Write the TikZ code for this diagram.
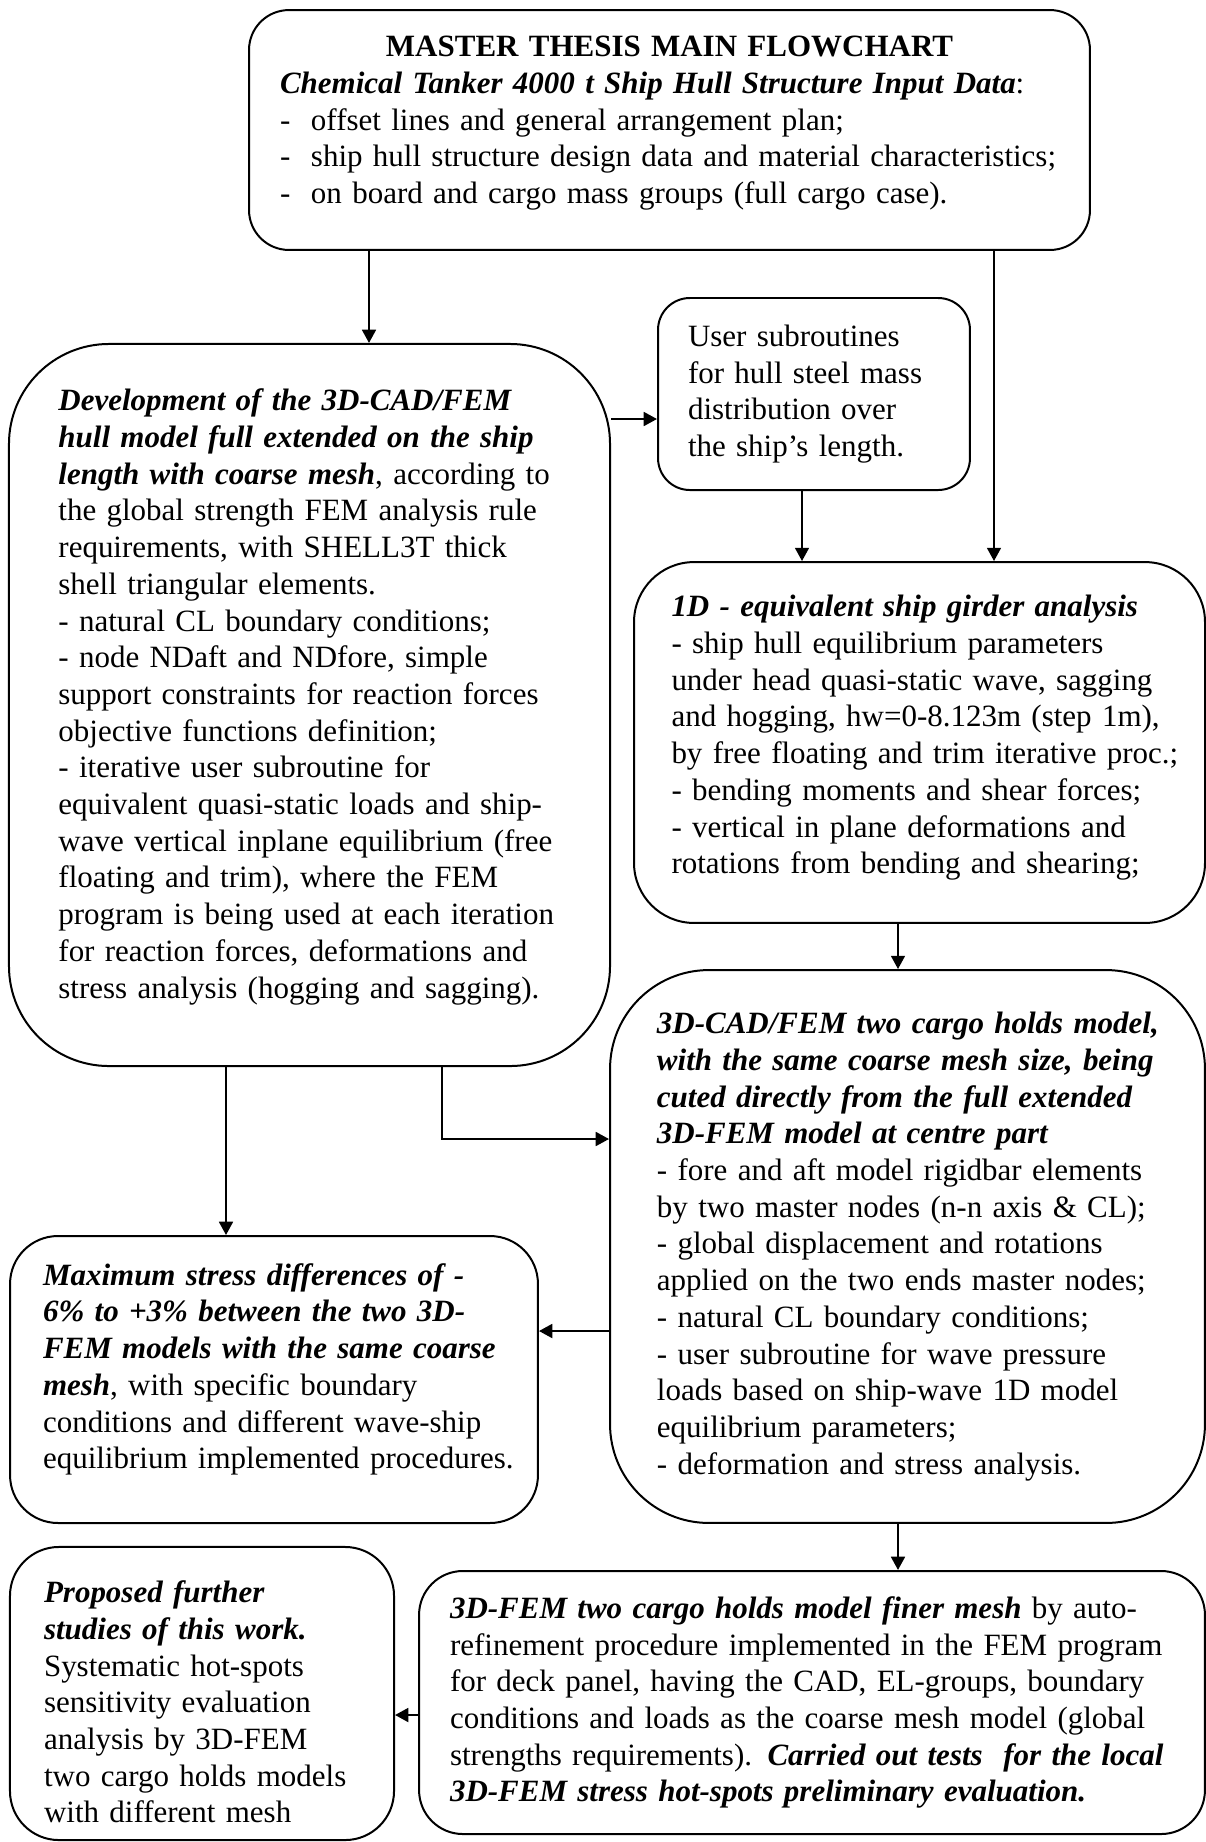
\documentclass[tikz,border=0pt]{standalone}
\usepackage{fontspec}
\setmainfont{Liberation Serif}
\usetikzlibrary{arrows.meta}
\newcommand{\bi}[1]{\textbf{\textit{#1}}}
\newcommand{\lift}[1]{\rule[-#1]{0pt}{#1}}
\newcommand{\drop}[1]{\rule{0pt}{#1}}
\begin{document}
\begin{tikzpicture}[x=0.376pt,y=-0.376pt,
	every node/.style={draw,line width=0.75pt,align=left,
		font=\fontsize{11.65}{13.8}\selectfont,
		execute at begin node={\rightskip=0pt plus 1fil minus 30pt}},
	arr/.style={line width=0.85pt,-{Triangle[length=5pt,width=5.2pt]}}]
\useasboundingbox (0,0) rectangle (1206,1842);
\node[minimum width=316.2pt,minimum height=90.2pt,text width=292.9pt,rounded corners=15pt] (top) at (669.5,130)
{\makebox[\linewidth]{\textbf{MASTER THESIS MAIN FLOWCHART}}\\
\bi{Chemical Tanker 4000 t Ship Hull Structure Input Data}:\\
-\ \ offset lines and general arrangement plan;\\
-\ \ ship hull structure design data and material characteristics;\\
-\ \ on board and cargo mass groups (full cargo case).\lift{7.6pt}};
\node[minimum width=117.3pt,minimum height=72.2pt,text width=94.75pt,rounded corners=12pt] (user) at (814,394)
{User subroutines\\
for hull steel mass\\
distribution over\\
the ship’s length.};
\node[minimum width=226pt,minimum height=271.5pt,text width=188.8pt,rounded corners=37.6pt] (dev) at (309.5,705)
{\bi{Development of the 3D-CAD/FEM}\\
\bi{hull model full extended on the ship}\\
\bi{length with coarse mesh}, according to\\
the global strength FEM analysis rule\\
requirements, with SHELL3T thick\\
shell triangular elements.\\
- natural CL boundary conditions;\\
- node NDaft and NDfore, simple\\
support constraints for reaction forces\\
objective functions definition;\\
- iterative user subroutine for\\
equivalent quasi-static loads and ship-\\
wave vertical inplane equilibrium (free\\
floating and trim), where the FEM\\
program is being used at each iteration\\
for reaction forces, deformations and\\
stress analysis (hogging and sagging).\lift{8.6pt}};
\node[minimum width=214.7pt,minimum height=135.7pt,text width=186.5pt,rounded corners=22.6pt] (oned) at (919.5,742.5)
{\bi{1D - equivalent ship girder analysis}\\
- ship hull equilibrium parameters\\
under head quasi-static wave, sagging\\
and hogging, hw=0-8.123m (step 1m),\\
by free floating and trim iterative proc.;\\
- bending moments and shear forces;\\
- vertical in plane deformations and\\
rotations from bending and shearing;\lift{6pt}};
\node[minimum width=223.7pt,minimum height=207.9pt,text width=188.4pt,rounded corners=37.2pt] (cad) at (907.5,1246.5)
{\bi{3D-CAD/FEM two cargo holds model,}\\
\bi{with the same coarse mesh size, being}\\
\bi{cuted directly from the full extended}\\
\bi{3D-FEM model at centre part}\\
- fore and aft model rigidbar elements\\
by two master nodes (n-n axis \& CL);\\
- global displacement and rotations\\
applied on the two ends master nodes;\\
- natural CL boundary conditions;\\
- user subroutine for wave pressure\\
loads based on ship-wave 1D model\\
equilibrium parameters;\\
- deformation and stress analysis.};
\node[minimum width=198.5pt,minimum height=107.9pt,text width=173.7pt,rounded corners=18pt] (maxs) at (274,1379.5)
{\bi{Maximum stress differences of -}\\
\bi{6\% to +3\% between the two 3D-}\\
\bi{FEM models with the same coarse}\\
\bi{mesh}, with specific boundary\\
conditions and different wave-ship\\
equilibrium implemented procedures.\lift{10.1pt}};
\node[minimum width=295.5pt,minimum height=98.9pt,text width=272.2pt,rounded corners=16.5pt] (finer) at (812,1702.5)
{\bi{3D-FEM two cargo holds model finer mesh} by auto-\\
refinement procedure implemented in the FEM program\\
for deck panel, having the CAD, EL-groups, boundary\\
conditions and loads as the coarse mesh model (global\\
strengths requirements). \bi{Carried out tests\ \ for the local}\\
\bi{3D-FEM stress hot-spots preliminary evaluation.}};
\node[minimum width=144.4pt,minimum height=110.2pt,text width=118.8pt,rounded corners=18.4pt] (prop) at (202,1693.5)
{\drop{14.6pt}\bi{Proposed further}\\
\bi{studies of this work.}\\
Systematic hot-spots\\
sensitivity evaluation\\
analysis by 3D-FEM\\
two cargo holds models\\
with different mesh};
\draw[arr] (top.south -| 369,0) -- (dev.north -| 369,0);
\draw[arr] (top.south -| 994,0) -- (oned.north -| 994,0);
\draw[arr] (dev.east |- 0,419) -- (user.west |- 0,419);
\draw[arr] (user.south -| 802,0) -- (oned.north -| 802,0);
\draw[arr] (oned.south -| 898,0) -- (cad.north -| 898,0);
\draw[arr] (dev.south -| 226,0) -- (maxs.north -| 226,0);
\draw[arr] (dev.south -| 442,0) |- (cad.west |- 0,1139);
\draw[arr] (cad.west |- 0,1331) -- (maxs.east |- 0,1331);
\draw[arr] (cad.south -| 898,0) -- (finer.north -| 898,0);
\draw[arr] (finer.west |- 0,1715) -- (prop.east |- 0,1715);
\end{tikzpicture}
\end{document}
